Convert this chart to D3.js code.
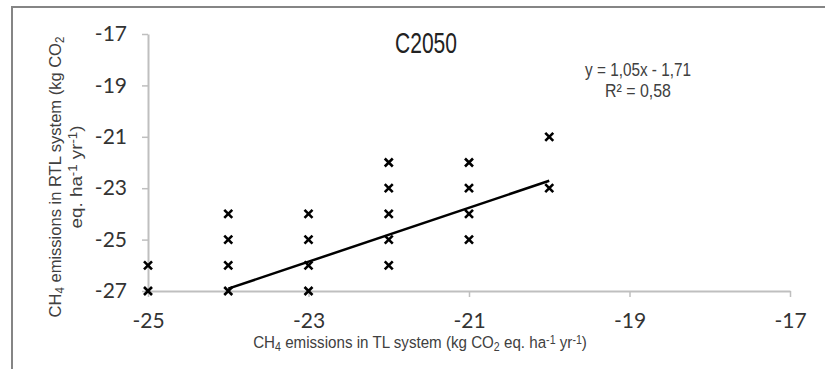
<!DOCTYPE html>
<html>
<head>
<meta charset="utf-8">
<script src="https://cdn.jsdelivr.net/npm/d3@7"></script>
<style>
  html, body { margin: 0; padding: 0; background: #fff; }
  svg { display: block; }
</style>
</head>
<body>
<svg id="chart" width="825" height="369"></svg>
<script>
// CH4 emissions, TL system (x) vs RTL system (y), kg CO2 eq. ha-1 yr-1
const tlValues  = [-25, -25, -24, -24, -24, -24, -23, -23, -23, -23, -22, -22, -22, -22, -22, -21, -21, -21, -21, -20, -20];
const rtlValues = [-26, -27, -24, -25, -26, -27, -24, -25, -26, -27, -22, -23, -24, -25, -26, -22, -23, -24, -25, -21, -23];

// linear trend y = slope * x + intercept, drawn over the fitted x range
const trendSlope = 1.05;
const trendIntercept = -1.71;
const trendRange = [-24, -20];

const xTicks = [-25, -23, -21, -19, -17];
const yTicks = [-27, -25, -23, -21, -19, -17];

const chartTitle = "C2050";
const equationLines = ["y = 1,05x - 1,71", "R² = 0,58"];

const svg = d3.select("#chart");
const axisColor = "#bfbfbf";
const textColor = "#404040";
const condensed = "'Liberation Sans', Arial, sans-serif";
const tickFont = "Lato, 'Open Sans', sans-serif";

// outer frame
svg.append("rect")
  .attr("x", 12).attr("y", 7)
  .attr("width", 830).attr("height", 380)
  .attr("fill", "none")
  .attr("stroke", "#858585")
  .attr("stroke-width", 2);

const x = d3.scaleLinear().domain([-25, -17]).range([148, 790]);
const y = d3.scaleLinear().domain([-27, -17]).range([291, 34]);

const fmt = d => String(d);

// x axis
const xAxis = svg.append("g")
  .attr("transform", `translate(0,${y(-27)})`)
  .call(d3.axisBottom(x).tickValues(xTicks).tickFormat(fmt).tickSize(6).tickSizeOuter(0).tickPadding(16));
// y axis
const yAxis = svg.append("g")
  .attr("transform", `translate(${x(-25)},0)`)
  .call(d3.axisLeft(y).tickValues(yTicks).tickFormat(fmt).tickSize(6).tickSizeOuter(0).tickPadding(15));

[xAxis, yAxis].forEach(g => {
  g.select(".domain").attr("stroke", axisColor).attr("stroke-width", 2);
  g.selectAll(".tick line").attr("stroke", axisColor).attr("stroke-width", 1.5);
  g.selectAll(".tick text")
    .attr("fill", "#333")
    .style("font-family", tickFont)
    .style("font-size", "21px");
});

// trend line
svg.append("line")
  .attr("x1", x(trendRange[0])).attr("y1", y(trendSlope * trendRange[0] + trendIntercept))
  .attr("x2", x(trendRange[1])).attr("y2", y(trendSlope * trendRange[1] + trendIntercept))
  .attr("stroke", "#000")
  .attr("stroke-width", 2.5);

// cross markers
const points = tlValues.map((v, i) => [v, rtlValues[i]]);
const s = 4;
svg.append("g").selectAll("path")
  .data(points)
  .join("path")
  .attr("transform", d => `translate(${x(d[0])},${y(d[1])})`)
  .attr("d", `M${-s},${-s}L${s},${s}M${-s},${s}L${s},${-s}`)
  .attr("stroke", "#000")
  .attr("stroke-width", 2.6)
  .attr("fill", "none");

// condensed text: draw at natural size, then squeeze horizontally to a target width
function condensedText(parent, cx, cy, size, width, fill, build, rotate) {
  const g = parent.append("g");
  const t = g.append("text")
    .attr("text-anchor", "middle")
    .attr("fill", fill)
    .style("font-family", condensed)
    .style("font-size", size + "px");
  build(t);
  const natural = t.node().getComputedTextLength();
  const sx = width / natural;
  g.attr("transform", `translate(${cx},${cy})${rotate ? " rotate(-90)" : ""} scale(${sx},1)`);
  return g;
}

function richText(sel, parts) {
  parts.forEach(p => {
    const t = sel.append("tspan").text(p.t);
    if (p.sub) t.attr("baseline-shift", "-25%").style("font-size", "70%");
    if (p.sup) t.attr("baseline-shift", "40%").style("font-size", "70%");
  });
}

// title
condensedText(svg, 426, 53, 29, 62, "#222", t => t.text(chartTitle));

// regression equation
const eqWidths = [106, 66];
equationLines.forEach((line, i) =>
  condensedText(svg, 638, 76 + i * 21, 18, eqWidths[i], textColor, t => t.text(line)));

// x axis title
condensedText(svg, 420, 348, 17, 334, textColor, t => richText(t, [
  {t: "CH"}, {t: "4", sub: true}, {t: " emissions in TL system (kg CO"}, {t: "2", sub: true},
  {t: " eq. ha"}, {t: "-1", sup: true}, {t: " yr"}, {t: "-1", sup: true}, {t: ")"}
]));

// y axis title, two lines
condensedText(svg, 61, 177, 17, 281, textColor, t => richText(t, [
  {t: "CH"}, {t: "4", sub: true}, {t: " emissions in RTL system (kg CO"}, {t: "2", sub: true}
]), true);
condensedText(svg, 82, 177, 17, 103, textColor, t => richText(t, [
  {t: "eq. ha"}, {t: "-1", sup: true}, {t: " yr"}, {t: "-1", sup: true}, {t: ")"}
]), true);
</script>
</body>
</html>
